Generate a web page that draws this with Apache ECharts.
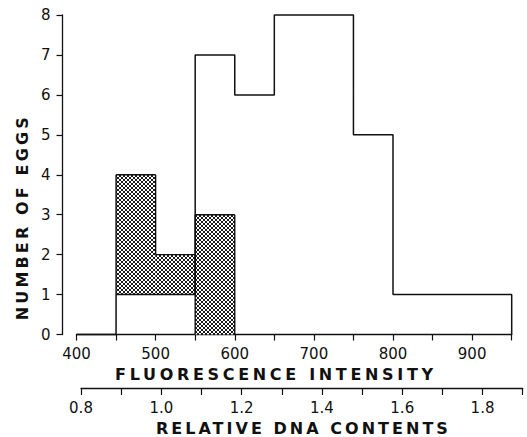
<!DOCTYPE html>
<html><head><meta charset="utf-8">
<script src="https://cdn.jsdelivr.net/npm/echarts@6/dist/echarts.min.js"></script>
<style>html,body{margin:0;padding:0;background:#fff}#c{width:527px;height:437px}</style>
</head><body><div id="c"></div>
<script>
// ---- data ----
const binEdges = [400, 450, 550, 600, 650, 750, 800, 950];   // fluorescence bin edges
const eggCounts = [0, 1, 7, 6, 8, 5, 1];                    // eggs per bin (outline)
const hatchStart = [450, 500, 550];
const hatchEnd = [500, 550, 600];
const hatchBase = [1, 1, 0];
const hatchTop = [4, 2, 3];
const fluorLabels = [400, 500, 600, 700, 800, 900];
const dnaLabels = ['0.8', '1.0', '1.2', '1.4', '1.6', '1.8'];
const yLabels = [0, 1, 2, 3, 4, 5, 6, 7, 8];

const INK = '#111';
const FONT = 'DejaVu Sans, Verdana, sans-serif';

// crosshatch tile
const tile = document.createElement('canvas');
tile.width = 4; tile.height = 4;
const tctx = tile.getContext('2d');
tctx.fillStyle = '#fff'; tctx.fillRect(0, 0, 4, 4);
tctx.fillStyle = '#1a1a1a';
for (let i = 0; i < 4; i++) { tctx.fillRect(i, i, 1, 1); tctx.fillRect(3 - i, i, 1, 1); }
const hatchFill = { image: tile, repeat: 'repeat' };

// outline points of the step histogram
const outline = [[binEdges[0], 0]];
for (let i = 0; i < eggCounts.length; i++) {
  outline.push([binEdges[i], eggCounts[i]]);
  outline.push([binEdges[i + 1], eggCounts[i]]);
}
outline.push([binEdges[binEdges.length - 1], 0]);

const hatchData = hatchStart.map((s, i) => [s, hatchEnd[i], hatchBase[i], hatchTop[i]]);

const chart = echarts.init(document.getElementById('c'), null, { renderer: 'svg' });
chart.setOption({
  animation: false,
  backgroundColor: '#fff',
  textStyle: { fontFamily: FONT, color: INK },
  grid: [
    { left: 76.5, right: 15.3, top: 15, bottom: 102.5 },
    { left: 81, right: 4.3, top: 370, bottom: 48.7 }
  ],
  xAxis: [
    {
      gridIndex: 0, type: 'value', min: 400, max: 950, interval: 50,
      name: 'FLUORESCENCE INTENSITY', nameLocation: 'middle', nameGap: 31,
      nameTextStyle: { fontSize: 16, fontWeight: 'bold', color: INK, fontFamily: FONT, padding: [0, 40, 0, 0] },
      axisLine: { show: true, lineStyle: { color: INK, width: 1.3 } },
      axisTick: { show: true, inside: false, length: 6, lineStyle: { color: INK, width: 1.2 } },
      axisLabel: { fontSize: 15, color: INK, margin: 12, fontFamily: FONT,
        formatter: v => fluorLabels.indexOf(Math.round(v)) >= 0 ? String(Math.round(v)) : '' },
      splitLine: { show: false }
    },
    {
      gridIndex: 1, type: 'value', min: 0.8, max: 1.9, interval: 0.1,
      name: 'RELATIVE DNA CONTENTS', nameLocation: 'middle', nameGap: 32,
      nameTextStyle: { fontSize: 16, fontWeight: 'bold', color: INK, fontFamily: FONT },
      axisLine: { show: true, lineStyle: { color: INK, width: 1.3 } },
      axisTick: { show: true, inside: false, length: 7, lineStyle: { color: INK, width: 1.2 } },
      axisLabel: { fontSize: 15, color: INK, margin: 12, fontFamily: FONT,
        formatter: v => { const s = v.toFixed(1); return dnaLabels.indexOf(s) >= 0 ? s : ''; } },
      splitLine: { show: false }
    }
  ],
  yAxis: [
    {
      gridIndex: 0, type: 'value', min: 0, max: 8, interval: 1, offset: 14,
      name: 'NUMBER OF EGGS', nameLocation: 'middle', nameGap: 32, nameRotate: 90,
      nameTextStyle: { fontSize: 16, fontWeight: 'bold', color: INK, fontFamily: FONT, padding: [0, 88, 0, 0] },
      axisLine: { show: true, lineStyle: { color: INK, width: 1.3 } },
      axisTick: { show: true, inside: false, length: 6, lineStyle: { color: INK, width: 1.2 } },
      axisLabel: { fontSize: 15, color: INK, margin: 12, fontFamily: FONT,
        formatter: v => yLabels.indexOf(Math.round(v)) >= 0 ? String(Math.round(v)) : '' },
      splitLine: { show: false }
    },
    { gridIndex: 1, type: 'value', show: false, min: 0, max: 1 }
  ],
  series: [
    {
      type: 'custom', xAxisIndex: 0, yAxisIndex: 0, silent: true, clip: false,
      data: hatchData, encode: { x: [0, 1], y: [2, 3] },
      renderItem: function (params, api) {
        const i = params.dataIndex, n = hatchStart.length;
        const s = hatchStart[i], e = hatchEnd[i], b = hatchBase[i], t = hatchTop[i];
        const p0 = api.coord([s, b]), p1 = api.coord([e, t]);
        const lineStyle = { stroke: INK, lineWidth: 1.4, fill: null };
        const seg = (xa, ya, xb, yb) => {
          const a = api.coord([xa, ya]), c = api.coord([xb, yb]);
          return { type: 'line', shape: { x1: a[0], y1: a[1], x2: c[0], y2: c[1] }, style: lineStyle };
        };
        const kids = [{
          type: 'rect',
          shape: { x: p0[0], y: p1[1], width: p1[0] - p0[0], height: p0[1] - p1[1] },
          style: { fill: hatchFill, stroke: null }
        }];
        kids.push(seg(s, t, e, t));
        const prevAdj = i > 0 && hatchEnd[i - 1] === s && hatchBase[i - 1] === b;
        if (prevAdj) kids.push(seg(s, Math.min(hatchTop[i - 1], t), s, Math.max(hatchTop[i - 1], t)));
        else kids.push(seg(s, b, s, t));
        const nextAdj = i < n - 1 && hatchStart[i + 1] === e && hatchBase[i + 1] === b;
        if (!nextAdj) kids.push(seg(e, b, e, t));
        return { type: 'group', children: kids };
      }
    },
    {
      type: 'line', xAxisIndex: 0, yAxisIndex: 0, silent: true, clip: false,
      data: outline, symbol: 'none', z: 5,
      lineStyle: { color: INK, width: 1.5 }
    }
  ]
});

const targets = { 'FLUORESCENCE INTENSITY': 318, 'RELATIVE DNA CONTENTS': 292, 'NUMBER OF EGGS': 203 };
function spaceTitles() {
  document.querySelectorAll('#c svg text').forEach(el => {
    const txt = el.textContent;
    if (targets[txt]) {
      el.removeAttribute('letter-spacing');
      el.removeAttribute('dx');
      const w = el.getComputedTextLength();
      const ls = (targets[txt] - w) / (txt.length - 1);
      el.setAttribute('letter-spacing', ls.toFixed(2));
      el.setAttribute('dx', (ls / 2).toFixed(2));
    }
  });
}
spaceTitles();
chart.on('finished', spaceTitles);
requestAnimationFrame(spaceTitles);
</script></body></html>
